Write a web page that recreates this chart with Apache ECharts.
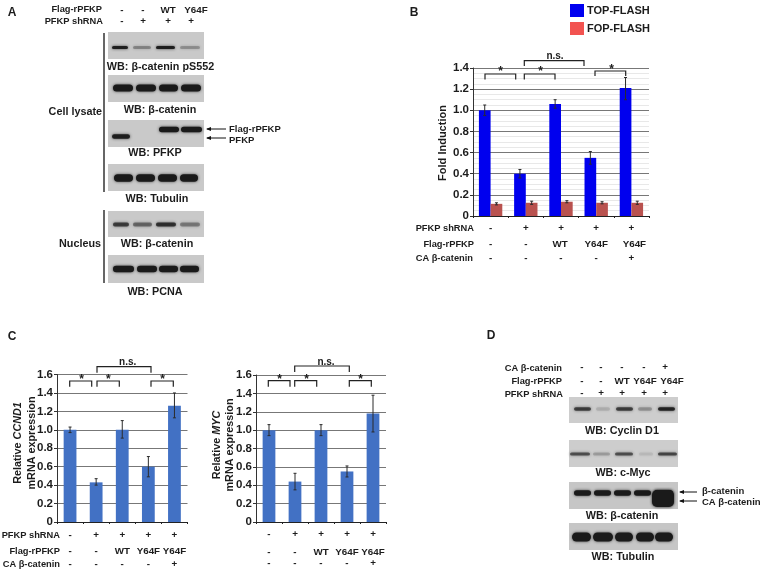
<!DOCTYPE html>
<html><head><meta charset="utf-8">
<style>html,body{margin:0;padding:0;background:#fff}#c{width:763px;height:573px}</style>
<script src="https://cdn.jsdelivr.net/npm/echarts@6/dist/echarts.min.js"></script></head>
<body><div id="c"></div>
<script>
// ---------- data ----------
const conds = ['1','2','3','4','5'];
const rowShrna = ['-','+','+','+','+'];
const rowFlag = ['-','-','WT','Y64F','Y64F'];
const rowCa = ['-','-','-','-','+'];
const topFlash = [1.0,0.40,1.06,0.55,1.21];
const topLow = [0.95,0.36,1.02,0.49,1.10];
const topHigh = [1.05,0.44,1.10,0.61,1.31];
const fopFlash = [0.115,0.125,0.135,0.125,0.125];
const fopLow = [0.105,0.11,0.125,0.115,0.11];
const fopHigh = [0.125,0.14,0.145,0.135,0.14];
const ccnd1 = [1.0,0.43,1.0,0.60,1.26];
const ccnd1Low = [0.97,0.40,0.91,0.49,1.13];
const ccnd1High = [1.03,0.47,1.10,0.71,1.40];
const myc = [1.0,0.44,1.0,0.55,1.18];
const mycLow = [0.94,0.35,0.94,0.49,0.98];
const mycHigh = [1.06,0.53,1.06,0.61,1.38];
// blot band strengths per lane
const aPs552 = [0.95,0.3,0.95,0.25];
const aCat = [1,1,1,1];
const aPfkpLow = [0.95,0,0,0];
const aPfkpHigh = [0,0,1,1];
const aTub = [1,1,1,1];
const aNucCat = [0.7,0.45,0.8,0.35];
const aPcna = [1,1,1,1];
const dCyclin = [0.7,0.12,0.7,0.25,0.9];
const dMyc = [0.6,0.2,0.6,0.08,0.65];
const dCat = [1,1,1,1,1];
const dTub = [1,1,1,1,1];

// ---------- helpers ----------
const F = '"Liberation Sans", Arial, sans-serif';
const INK = '#1c1c1c';
const g = [];
const CAP = 10.8, ROW = 9.3;
function txt(x,y,s,size,align,extra){
  g.push({type:'text',x,y,silent:true,z:50,style:Object.assign({text:s,fill:INK,font:'bold '+size+'px '+F,
    align:align||'center',verticalAlign:'middle'},extra||{})});
}
function vtxt(x,y,s,size,rich){
  g.push({type:'text',x,y,rotation:Math.PI/2,silent:true,z:50,style:{text:s,fill:INK,font:'bold '+size+'px '+F,
    fontWeight:'bold',fontSize:size,fontFamily:F,align:'center',verticalAlign:'middle',rich:rich||undefined}});
}
function line(pts,w,c){
  g.push({type:'polyline',silent:true,z:40,shape:{points:pts},style:{stroke:c||'#222',lineWidth:w||1,fill:null}});
}
function bracket(x1,x2,y1,y2,label,lx,ly){
  line([[x1,y2],[x1,y1],[x2,y1],[x2,y2]],1.2);
  txt(lx,ly,label,label==='*'?12:10,'center');
}
function arrow(x1,x2,y){
  line([[x1,y],[x2,y]],1,'#111');
  g.push({type:'polygon',silent:true,z:40,shape:{points:[[x1-1,y],[x1+4,y-2],[x1+4,y+2]]},style:{fill:'#111'}});
}
function blot(x,y,w,h,shade){
  g.push({type:'rect',silent:true,z:5,shape:{x,y,width:w,height:h},style:{fill:shade||'#c9c9c9'}});
}
function bands(vals,spans,cy,h){
  vals.forEach((v,i)=>{
    if(v<=0) return;
    const s=spans[i];
    g.push({type:'rect',silent:true,z:6,shape:{x:s[0],y:cy-h/2,width:s[1]-s[0],height:h,r:h/2},
      style:{fill:'#1a1a1a',opacity:v,shadowBlur:3,shadowColor:'rgba(30,30,30,0.8)'}});
  });
}
function row(centers,vals,y){vals.forEach((v,i)=>txt(centers[i],y,v,ROW+0.5,'center'));}
function centersOf(left,width){return conds.map((_,i)=>left+width*(i+0.5)/conds.length);}

// ---------- panel A ----------
txt(12,13,'A',12,'center');
txt(102,9,'Flag-rPFKP',ROW,'right');
txt(103,21,'PFKP shRNA',ROW,'right');
[[122,'-'],[143,'-'],[168,'WT'],[196,'Y64F']].forEach(a=>txt(a[0],10,a[1],ROW+0.5));
[[122,'-'],[143,'+'],[168,'+'],[191,'+']].forEach(a=>txt(a[0],21,a[1],ROW+0.5));
line([[104,33],[104,192]],1.5,'#333');
line([[104,210],[104,283]],1.5,'#333');
blot(108,32,96,27); bands(aPs552,[[112,128],[133,151],[156,175],[180,200]],47.5,3.2);
blot(108,75,96,27); bands(aCat,[[113,133],[136,156],[159,178],[181,201]],88,7);
blot(108,120,96,27); bands(aPfkpLow,[[112,130],[0,0],[0,0],[0,0]],136.5,4.5);
bands(aPfkpHigh,[[0,0],[0,0],[159,179],[181,202]],129.5,5.5);
blot(108,164,96,27); bands(aTub,[[114,133],[136,155],[158,177],[180,198]],178,7.5);
blot(108,211,96,26); bands(aNucCat,[[113,129],[133,152],[156,176],[180,200]],224.5,3.8);
blot(108,255,96,28); bands(aPcna,[[113,134],[137,157],[159,178],[180,199]],269,6.5);
txt(160.5,67,'WB: β-catenin pS552',CAP);
txt(160,110,'WB: β-catenin',CAP);
txt(155,153,'WB: PFKP',CAP);
txt(157,199,'WB: Tubulin',CAP);
txt(157,244,'WB: β-catenin',CAP);
txt(155,292,'WB: PCNA',CAP);
txt(102,112,'Cell lysate',CAP,'right');
txt(101,244,'Nucleus',CAP,'right');
arrow(207,226,129); arrow(207,226,138);
txt(229,129,'Flag-rPFKP',9.5,'left');
txt(229,140,'PFKP',9.5,'left');

// ---------- panel B annotations ----------
txt(414,13,'B',12);
const bG={left:473,top:68,width:176,height:148};
vtxt(443,143,'Fold Induction',11);
const bC=centersOf(bG.left,bG.width);
txt(474,228,'PFKP shRNA',ROW,'right');
txt(474,244,'Flag-rPFKP',ROW,'right');
txt(473,258,'CA β-catenin',ROW,'right');
row(bC,rowShrna,228);
row([bC[0],bC[1],bC[2]-1,bC[3],bC[4]+3],rowFlag,244);
row(bC,rowCa,258);
bracket(485,515.7,74,79.5,'*',500.7,72);
bracket(524.3,555,74,79.5,'*',540.7,72);
bracket(595,625.7,71,76,'*',611.7,69.5);
bracket(524.3,584,60.7,66,'n.s.',555,56);

// ---------- panel C ----------
txt(12,337,'C',12);
const c1G={left:57,top:374.5,width:130.5,height:147.5};
const c2G={left:256,top:375,width:130,height:147};
const itRich={i:{fontStyle:'italic',fontWeight:'bold',fontSize:10.8,fontFamily:F,fill:INK}};
vtxt(18,443,'Relative {i|CCND1}',10.8,itRich);
vtxt(32,443,'mRNA expression',10.8);
vtxt(217,445,'Relative {i|MYC}',10.8,itRich);
vtxt(230,445,'mRNA expression',10.8);
const c1C=centersOf(c1G.left,c1G.width), c2C=centersOf(c2G.left,c2G.width);
txt(60,535,'PFKP shRNA',ROW,'right');
txt(60,551,'Flag-rPFKP',ROW,'right');
txt(60,564,'CA β-catenin',ROW,'right');
row(c1C,rowShrna,535); row(c1C,rowFlag,551); row(c1C,rowCa,564);
row(c2C,rowShrna,534); row(c2C,rowFlag,552); row(c2C,rowCa,563);
bracket(69.7,91.7,381,386.7,'*',81.7,380);
bracket(97,119.3,381,386.7,'*',108.3,380);
bracket(151,173.3,381,386.7,'*',162.7,380);
bracket(97,151,366.7,372.7,'n.s.',127.7,362);
bracket(268.3,290,380.7,386.7,'*',279.5,380);
bracket(294.7,316.7,380.7,386.7,'*',306.5,380);
bracket(349.3,371.3,380.7,386.7,'*',360.5,380);
bracket(294.7,349.3,366,372,'n.s.',326,362);

// ---------- panel D ----------
txt(491,336,'D',12);
const dRowX=[582,601,622,644,665];
txt(562,368,'CA β-catenin',ROW,'right');
txt(562,381,'Flag-rPFKP',ROW,'right');
txt(563,394,'PFKP shRNA',ROW,'right');
row(dRowX,rowCa,367);
row([582,601,622,645,672],rowFlag,381);
row(dRowX,rowShrna,393);
blot(569,397,109,26,'#cdcdcd'); bands(dCyclin,[[574,591],[596,610],[616,633],[638,652],[658,675]],409,3.6);
blot(569,440,109,27,'#cdcdcd'); bands(dMyc,[[570,590],[593,610],[615,633],[639,653],[658,677]],454,3.2);
blot(569,482,109,27,'#c6c6c6');
bands(dCat,[[574,591],[594,611],[614,631],[634,651],[654,673]],493,5.5);
g.push({type:'rect',silent:true,z:6,shape:{x:652,y:490,width:22,height:17,r:5},style:{fill:'#1a1a1a',shadowBlur:3,shadowColor:'#1a1a1a'}});
blot(569,523,109,27,'#c6c6c6'); bands(dTub,[[572,591],[593,613],[615,633],[636,654],[655,673]],537,9);
txt(622,431,'WB: Cyclin D1',CAP);
txt(623,473,'WB: c-Myc',CAP);
txt(622,516,'WB: β-catenin',CAP);
txt(623,557,'WB: Tubulin',CAP);
arrow(680,697,492); arrow(680,697,501);
txt(702,491,'β-catenin',9.5,'left');
txt(702,502,'CA β-catenin',9.5,'left');

// ---------- chart axes/series ----------
const yLabel={color:INK,fontWeight:'bold',fontSize:11.5,fontFamily:F,margin:4,
  formatter:v=>v===0?'0':v.toFixed(1)};
function yAxis(gi,max,minor){
  return {type:'value',gridIndex:gi,min:0,max,interval:0.2,axisLabel:yLabel,
    axisLine:{show:true,lineStyle:{color:'#333',width:1}},
    axisTick:{show:true,length:3,lineStyle:{color:'#333'}},
    splitLine:{show:true,lineStyle:{color:'#777',width:1}},
    minorTick:minor?{show:false,splitNumber:4}:{show:false},
    minorSplitLine:minor?{show:true,lineStyle:{color:'#e8e8e8',width:1}}:{show:false}};
}
function xAxis(gi){
  return {type:'category',gridIndex:gi,data:conds,axisLabel:{show:false},
    axisLine:{show:true,lineStyle:{color:'#222',width:1.2}},
    axisTick:{show:true,length:2,lineStyle:{color:'#222'}},splitLine:{show:false}};
}
function bar(name,gi,data,color,gap){
  return {type:'bar',name,xAxisIndex:gi,yAxisIndex:gi,data,barGap:0,barCategoryGap:gap,z:3,
    itemStyle:{color},animation:false};
}
function errs(name,gi,low,high,shiftFrac){
  return {type:'custom',name,xAxisIndex:gi,yAxisIndex:gi,z:4,silent:true,animation:false,
    data:low.map((l,i)=>[i,l,high[i]]),encode:{x:0,y:[1,2]},
    renderItem(p,api){
      const band=api.size([1,0])[0];
      const a=api.coord([api.value(0),api.value(1)]);
      const b=api.coord([api.value(0),api.value(2)]);
      const x=a[0]+band*shiftFrac, cap=1.5;
      return {type:'group',children:[
        {type:'line',shape:{x1:x,y1:a[1],x2:x,y2:b[1]},style:{stroke:'#2b2b2b',lineWidth:1}},
        {type:'line',shape:{x1:x-cap,y1:a[1],x2:x+cap,y2:a[1]},style:{stroke:'#2b2b2b',lineWidth:1}},
        {type:'line',shape:{x1:x-cap,y1:b[1],x2:x+cap,y2:b[1]},style:{stroke:'#2b2b2b',lineWidth:1}}]};
    }};
}
const option={
  animation:false,backgroundColor:'#fff',
  textStyle:{fontFamily:F},
  grid:[bG,c1G,c2G].map(o=>Object.assign({containLabel:false},o)),
  legend:{left:570,top:4,padding:0,orient:'vertical',icon:'rect',itemWidth:14,itemHeight:13,itemGap:5,
    textStyle:{color:INK,fontWeight:'bold',fontSize:11,fontFamily:F,padding:[0,0,0,-2]},
    selectedMode:false,
    data:[{name:'TOP-FLASH',itemStyle:{color:'#0000f0'}},{name:'FOP-FLASH',itemStyle:{color:'#f25350'}}]},
  xAxis:[xAxis(0),xAxis(1),xAxis(2)],
  yAxis:[yAxis(0,1.4,true),yAxis(1,1.6,false),yAxis(2,1.6,false)],
  series:[
    bar('TOP-FLASH',0,topFlash,'#0000ee','33.6%'),
    bar('FOP-FLASH',0,fopFlash,'#b9524f','33.6%'),
    errs('TOP-err',0,topLow,topHigh,-1/6),
    errs('FOP-err',0,fopLow,fopHigh,1/6),
    bar('CCND1',1,ccnd1,'#4271c4','51%'),
    errs('CCND1-err',1,ccnd1Low,ccnd1High,0),
    bar('MYC',2,myc,'#4271c4','51%'),
    errs('MYC-err',2,mycLow,mycHigh,0)
  ],
  graphic:{elements:g}
};
echarts.init(document.getElementById('c'),null,{renderer:'canvas'}).setOption(option);
</script></body></html>
